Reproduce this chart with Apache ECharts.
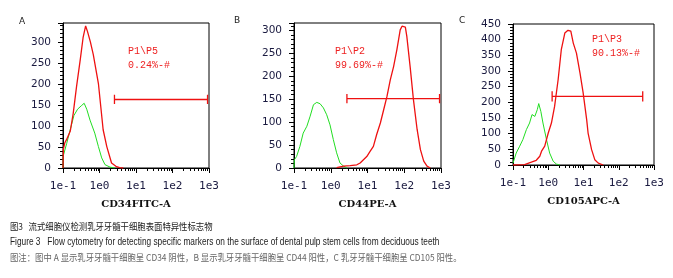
<!DOCTYPE html>
<html>
<head>
<meta charset="utf-8">
<script src="https://cdn.jsdelivr.net/npm/echarts@6/dist/echarts.min.js"></script>
<style>
  html, body { margin: 0; padding: 0; background: #fff; }
  #chart { width: 673px; height: 278px; }
</style>
</head>
<body>
<div id="chart"></div>
<script>
// x values are decades (log10 of intensity), y values are counts
const aGreenX = [-1, -0.99, -0.9, -0.8, -0.7, -0.6, -0.5, -0.42, -0.35, -0.26, -0.13, -0.03, 0.06, 0.15, 0.29, 0.42]
const aGreenY = [0, 30, 58, 92, 125, 140, 148, 154, 140, 114, 83, 51, 24, 8, 2, 0]
const aRedX = [-1, -0.99, -0.95, -0.9, -0.8, -0.72, -0.63, -0.53, -0.45, -0.38, -0.33, -0.25, -0.17, -0.03, 0.1, 0.2, 0.33, 0.45, 0.55, 0.65]
const aRedY = [0, 45, 60, 68, 88, 130, 193, 256, 310, 338, 325, 300, 270, 201, 91, 51, 12, 4, 1, 0]

const bGreenX = [-1, -0.99, -0.93, -0.84, -0.75, -0.65, -0.56, -0.47, -0.38, -0.29, -0.2, -0.11, -0.02, 0.07, 0.16, 0.25, 0.35, 0.44]
const bGreenY = [0, 18, 25, 47, 76, 91, 113, 138, 143, 140, 131, 116, 94, 62, 33, 11, 4, 0]
const bRedX = [0.16, 0.35, 0.53, 0.71, 0.8, 0.89, 0.98, 1.07, 1.16, 1.25, 1.35, 1.44, 1.53, 1.62, 1.71, 1.8, 1.89, 1.94, 2.03, 2.07, 2.16, 2.25, 2.35, 2.44, 2.53, 2.62, 2.71]
const bRedY = [1, 4, 5, 7, 11, 18, 25, 36, 47, 73, 98, 127, 156, 192, 221, 258, 301, 309, 307, 287, 221, 149, 84, 40, 15, 4, 0]

const cGreenX = [-1, -0.91, -0.81, -0.72, -0.62, -0.53, -0.46, -0.38, -0.31, -0.27, -0.21, -0.15, -0.05, 0.04, 0.14, 0.23, 0.33]
const cGreenY = [6, 38, 60, 81, 113, 134, 161, 155, 177, 196, 171, 134, 81, 38, 12, 3, 0]
const cRedX = [-1, -0.67, -0.48, -0.34, -0.24, -0.19, -0.1, 0, 0.09, 0.18, 0.28, 0.37, 0.47, 0.56, 0.64, 0.71, 0.8, 0.9, 0.99, 1.09, 1.13, 1.23, 1.32, 1.42, 1.56]
const cRedY = [0, 1, 9, 15, 28, 44, 60, 102, 134, 187, 272, 368, 421, 430, 427, 389, 357, 294, 230, 145, 102, 49, 17, 6, 0]

// gates: [low decade, high decade, count level]
const aGate = [0.41, 2.96, 163]
const bGate = [0.44, 2.96, 151]
const cGate = [0.11, 2.68, 219]

const axisNames = ['CD34FITC-A', 'CD44PE-A', 'CD105APC-A']
const yMaxes = [345, 316, 450]
const gateLabels = [['P1\\P5', '0.24%-#'], ['P1\\P2', '99.69%-#'], ['P1\\P3', '90.13%-#']]
const panelLetters = ['A', 'B', 'C']

const grids = [
  { left: 63, top: 23, width: 146, height: 145 },
  { left: 294, top: 23, width: 147, height: 145 },
  { left: 513, top: 24, width: 141, height: 141 }
]

const labelColor = '#1a1a40'

function pts(xs, ys) {
  return xs.map((e, i) => [Math.pow(10, e), ys[i]])
}
function gatePts(g, cap) {
  const lo = Math.pow(10, g[0]), hi = Math.pow(10, g[1])
  return [[lo, g[2] - cap], [lo, g[2] + cap], [lo, g[2]], [hi, g[2]], [hi, g[2] + cap], [hi, g[2] - cap]]
}

const panels = [
  { green: pts(aGreenX, aGreenY), red: pts(aRedX, aRedY), gate: gatePts(aGate, 11) },
  { green: pts(bGreenX, bGreenY), red: pts(bRedX, bRedY), gate: gatePts(bGate, 10) },
  { green: pts(cGreenX, cGreenY), red: pts(cRedX, cRedY), gate: gatePts(cGate, 16) }
]

const chart = echarts.init(document.getElementById('chart'))

const xAxis = [], yAxis = [], series = [], graphic = []
grids.forEach((g, i) => {
  xAxis.push({
    type: 'log', logBase: 10, gridIndex: i, min: 0.1, max: 1000,
    name: axisNames[i], nameLocation: 'middle', nameGap: 31,
    nameTextStyle: { fontFamily: 'DejaVu Serif', fontWeight: 'bold', fontSize: 10, color: '#111' },
    axisLine: { lineStyle: { color: '#000', width: 1 } },
    axisTick: { show: true, length: 5, lineStyle: { color: '#000' } },
    minorTick: { show: true, splitNumber: 9, length: 3, lineStyle: { color: '#000' } },
    splitLine: { show: false },
    axisLabel: {
      fontFamily: 'DejaVu Sans Mono', fontSize: 11, color: labelColor, margin: 13,
      formatter: v => '1e' + Math.round(Math.log10(v))
    }
  })
  yAxis.push({
    type: 'value', gridIndex: i, min: 0, max: yMaxes[i], interval: 50,
    axisLine: { show: true, lineStyle: { color: '#000', width: 1 } },
    axisTick: { show: true, length: 5, lineStyle: { color: '#000' } },
    minorTick: { show: true, splitNumber: 5, length: 3, lineStyle: { color: '#000' } },
    splitLine: { show: false },
    axisLabel: { fontFamily: 'DejaVu Sans', fontSize: 10.5, color: labelColor, margin: 12, showMaxLabel: yMaxes[i] % 50 === 0 }
  })
  const p = panels[i]
  series.push({ type: 'line', xAxisIndex: i, yAxisIndex: i, data: p.green, symbol: 'none', lineStyle: { color: '#22dd22', width: 1 } })
  series.push({ type: 'line', xAxisIndex: i, yAxisIndex: i, data: p.red, symbol: 'none', lineStyle: { color: '#ee1111', width: 1.3 } })
  series.push({ type: 'line', xAxisIndex: i, yAxisIndex: i, data: p.gate, symbol: 'none', lineStyle: { color: '#ee1111', width: 1.3 } })
})

const gateTextPos = [[128, 44], [335, 44], [592, 32]]
gateTextPos.forEach((pos, i) => {
  graphic.push({
    type: 'text', left: pos[0], top: pos[1],
    style: { text: gateLabels[i][0] + '\n' + gateLabels[i][1], fill: '#ee2222', font: '10px "Liberation Mono"', lineHeight: 14 }
  })
})
const letterPos = [[19, 17], [234, 16], [459, 16]]
letterPos.forEach((pos, i) => {
  graphic.push({ type: 'text', left: pos[0], top: pos[1], style: { text: panelLetters[i], fill: '#222', font: '9px "DejaVu Sans"' } })
})

graphic.push({ type: 'text', x: 10, y: 222, scaleX: 0.88, style: { text: '图3   流式细胞仪检测乳牙牙髓干细胞表面特异性标志物', fill: '#222', font: '9.5px "Noto Sans CJK SC"' } })
graphic.push({ type: 'text', x: 10, y: 237, scaleX: 0.83, style: { text: 'Figure 3   Flow cytometry for detecting specific markers on the surface of dental pulp stem cells from deciduous teeth', fill: '#222', font: '10px "Liberation Sans"' } })
graphic.push({ type: 'text', x: 10, y: 253, scaleX: 0.88, style: { text: '图注：图中 A 显示乳牙牙髓干细胞呈 CD34 阴性，B 显示乳牙牙髓干细胞呈 CD44 阳性，C 乳牙牙髓干细胞呈 CD105 阳性。', fill: '#666', font: '9.5px "Noto Sans CJK SC"' } })

chart.setOption({
  backgroundColor: '#fff',
  animation: false,
  grid: grids.map(g => Object.assign({ show: true, borderColor: '#000', borderWidth: 1, backgroundColor: 'transparent' }, g)),
  xAxis: xAxis,
  yAxis: yAxis,
  series: series,
  graphic: graphic
})
</script>
</body>
</html>
